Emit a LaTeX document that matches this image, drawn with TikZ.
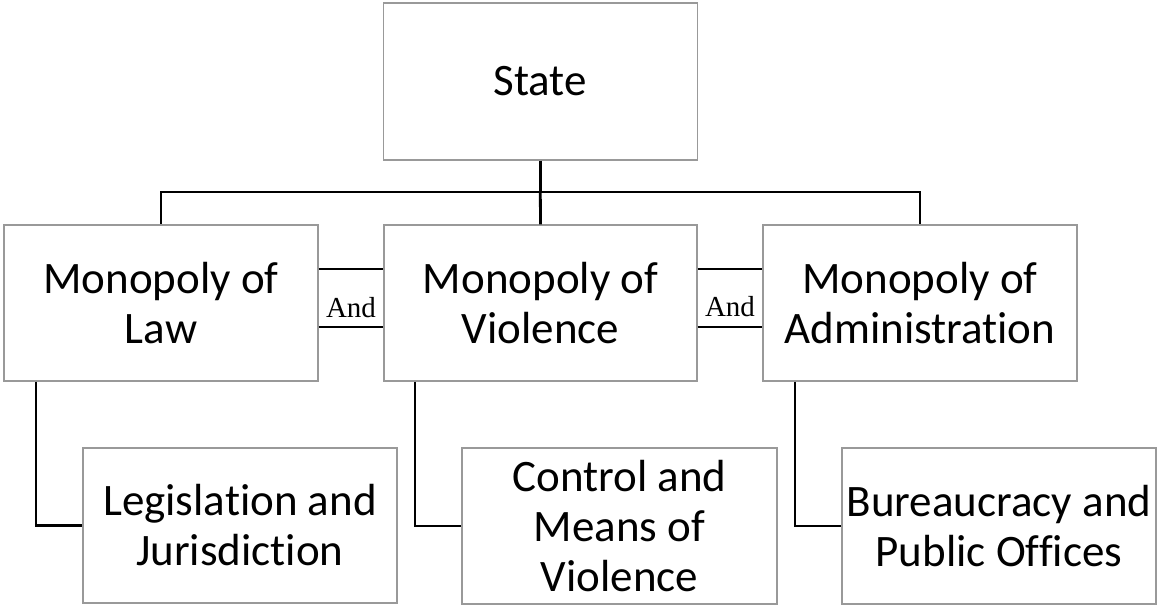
\documentclass[tikz,border=0pt]{standalone}
\usepackage{fontspec}
\setmainfont[RawFeature={-liga}]{Carlito}
\newfontfamily\andfont{Liberation Serif}
\begin{document}
\begin{tikzpicture}[x=1pt,y=-1pt,
  box/.style={draw=black!40,line width=1.4pt,fill=white,inner sep=0pt,align=center,
    font=\fontsize{45}{50}\selectfont},
  conn/.style={draw=black,line width=2.8pt},
  andconn/.style={draw=black,line width=2.2pt},
  andlbl/.style={font=\andfont\fontsize{29}{30}\selectfont,inner sep=0pt}]
\useasboundingbox (0,0) rectangle (1157,605);
% boxes
\node[box,minimum width=314pt,minimum height=157pt] (state) at (540.3,81.5) {State};
\node[box,minimum width=314pt,minimum height=156pt] (law) at (161,303) {Monopoly of\\Law};
\node[box,minimum width=313pt,minimum height=156pt] (viol) at (540.5,303) {Monopoly of\\Violence};
\node[box,minimum width=314pt,minimum height=156pt] (adm) at (920,303) {Monopoly of\\Administration};
\node[box,minimum width=314pt,minimum height=155pt] (leg) at (240,525.5) {Legislation and\\Jurisdiction};
\node[box,minimum width=315pt,minimum height=156pt] (ctl) at (619.5,526) {Control and\\Means of\\Violence};
\node[box,minimum width=314pt,minimum height=156pt] (bur) at (999,526) {Bureaucracy and\\Public Offices};
% tree connectors
\coordinate (hb) at (540.3,192);
\draw[conn] (state.south) -- (hb);
\draw[conn] (hb) -| (law.north);
\draw[conn] (hb) -| (adm.north);
\draw[conn] (hb) -- (viol.north);
% child connectors
\draw[conn] ([xshift=-125pt]law.south) |- (leg.west);
\draw[conn] ([xshift=-125.5pt]viol.south) |- (ctl.west);
\draw[conn] ([xshift=-125pt]adm.south) |- (bur.west);
% And links
\draw[andconn] ([yshift=-24pt]law.east) -- ([yshift=-24pt]viol.west);
\draw[andconn] ([yshift=34pt]law.east) -- ([yshift=34pt]viol.west);
\draw[andconn] ([yshift=-24pt]viol.east) -- ([yshift=-24pt]adm.west);
\draw[andconn] ([yshift=34pt]viol.east) -- ([yshift=34pt]adm.west);
\node[andlbl] (and1) at (351,308) {And};
\node[andlbl] (and2) at (730,307) {And};
\end{tikzpicture}
\end{document}
